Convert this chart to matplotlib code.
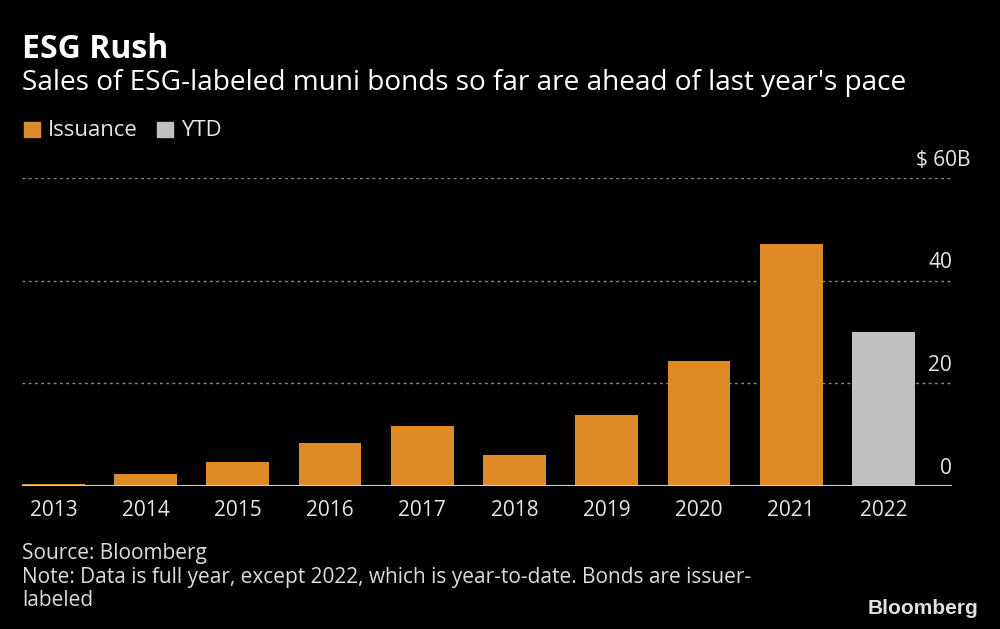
import matplotlib
matplotlib.use("Agg")
import matplotlib.pyplot as plt
from matplotlib.patches import Rectangle

years = ["2013", "2014", "2015", "2016", "2017", "2018", "2019", "2020", "2021", "2022"]
values = [0.3, 2.4, 4.7, 8.4, 11.7, 6.0, 13.8, 24.3, 47.2, 30.0]
series = ["Issuance", "Issuance", "Issuance", "Issuance", "Issuance", "Issuance",
          "Issuance", "Issuance", "Issuance", "YTD"]
y_ticks = [0, 20, 40, 60]
y_tick_labels = ["0", "20", "40", "$ 60B"]

colors = {"Issuance": "#DE8A26", "YTD": "#C0C0C0"}
FONT = ["Open Sans", "DejaVu Sans"]
plt.rcParams['font.family'] = FONT

fig = plt.figure(figsize=(10, 6.29), dpi=100, facecolor="black")
ax = fig.add_axes([0.022, 1 - 486 / 629, 0.930, (486 - 178) / 629])
ax.set_facecolor("black")

x = list(range(len(years)))
ax.bar(x, values, width=0.68, color=[colors[s] for s in series], zorder=3)
ax.set_xlim(-0.34, 9.743)
ax.set_ylim(0, 60)

for t in y_ticks[1:]:
    ax.axhline(t, color="#8a8a8a", lw=1.0, ls=(0, (2, 2.5)), zorder=1)
ax.axhline(0, color="#d0d0d0", lw=1.5, zorder=4)

for t, lab in zip(y_ticks, y_tick_labels):
    xpos = 1.0204 if lab.endswith("B") else 1.0
    ax.text(xpos, t + 3.5, lab, transform=ax.get_yaxis_transform(), ha="right", va="center",
            color="#e6e6e6", fontsize=15)

ax.set_xticks(x)
ax.set_xticklabels(years, color="#e6e6e6", fontsize=15)
ax.tick_params(axis="x", length=0, pad=10)
ax.set_yticks([])
for s in ax.spines.values():
    s.set_visible(False)

fig.text(0.022, 1 - 50 / 629, "ESG Rush", color="white", fontsize=23, fontweight="bold",
         ha="left", va="center")
fig.text(0.022, 1 - 83 / 629, "Sales of ESG-labeled muni bonds so far are ahead of last year's pace",
         color="white", fontsize=20.2, ha="left", va="center")

# legend
fig.patches.append(Rectangle((24 / 1000, 1 - 137 / 629), 16 / 1000, 15 / 629,
                             transform=fig.transFigure, color=colors["Issuance"]))
fig.text(48 / 1000, 1 - 130 / 629, "Issuance", color="#e6e6e6", fontsize=15.9, ha="left", va="center")
fig.patches.append(Rectangle((157 / 1000, 1 - 137 / 629), 16 / 1000, 15 / 629,
                             transform=fig.transFigure, color=colors["YTD"]))
fig.text(181 / 1000, 1 - 130 / 629, "YTD", color="#e6e6e6", fontsize=15.9, ha="left", va="center")

fig.text(0.022, 1 - 553 / 629, "Source: Bloomberg", color="#dcdcdc", fontsize=15, ha="left", va="center")
fig.text(0.022, 1 - 577 / 629,
         "Note: Data is full year, except 2022, which is year-to-date. Bonds are issuer-",
         color="#dcdcdc", fontsize=15, ha="left", va="center")
fig.text(0.022, 1 - 601 / 629, "labeled", color="#dcdcdc", fontsize=15, ha="left", va="center")
fig.text(978 / 1000, 1 - 609 / 629, "Bloomberg", color="#e0e0e0", fontsize=15, fontweight="bold",
         ha="right", va="center", family=["Liberation Sans", "DejaVu Sans"])

fig.savefig("out.png", dpi=100, facecolor="black")
